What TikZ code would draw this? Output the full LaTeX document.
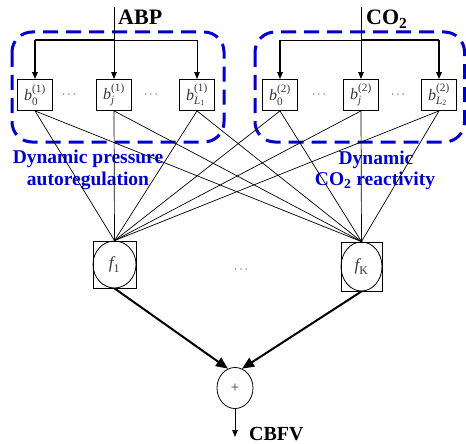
\documentclass[tikz,border=0pt]{standalone}
\usepackage{fontspec}
\setmainfont{Liberation Serif}
\usepackage{amsmath}
\usetikzlibrary{arrows.meta,shapes.geometric}
\definecolor{dblue}{RGB}{0,0,204}
\definecolor{lbl}{RGB}{55,55,55}
\newcommand\bsym[2]{$\textit{b}^{\text{(#1)}}_{#2}$}
\begin{document}
\begin{tikzpicture}[x=1pt,y=-1pt,
 bbox/.style={draw, line width=0.8pt, minimum width=35pt, minimum height=31pt, inner sep=0pt, text=lbl, font=\fontsize{16}{18}\selectfont},
 grp/.style={draw=dblue, line width=3pt, dash pattern=on 15pt off 8pt, rounded corners=20pt},
 conn/.style={line width=0.7pt},
 bus/.style={line width=1.6pt},
 feed/.style={line width=0.8pt},
 sarr/.style={-{Triangle[length=7pt,width=5.5pt]}},
 barr/.style={line width=2pt,-{Triangle[length=12pt,width=10pt]}},
 hdr/.style={font=\fontsize{22}{24}\selectfont\bfseries, inner sep=0pt, anchor=base west},
 blab/.style={font=\fontsize{19.5}{22}\selectfont\bfseries, text=dblue, inner sep=0pt, anchor=base},
 fbox/.style={draw, line width=0.8pt, inner sep=0pt, text=lbl, font=\fontsize{17}{19}\selectfont},
 dotsn/.style={text=lbl, inner sep=0pt, font=\fontsize{12}{14}\selectfont}]
\useasboundingbox (0,0) rectangle (466,444);

% group frames
\draw[grp] (12,32) rectangle (224,142);
\draw[grp] (255,32) rectangle (464.5,142);

% b boxes
\node[bbox] (b10) at (35,95) {\bsym{1}{\text{0}}};
\node[bbox] (b1j) at (114,95) {\bsym{1}{\text{\itshape j}}};
\node[bbox] (b1L) at (197,95) {\bsym{1}{\text{\itshape L}_{\text{1}}}};
\node[bbox] (b20) at (280,95) {\bsym{2}{\text{0}}};
\node[bbox] (b2j) at (361,95) {\bsym{2}{\text{\itshape j}}};
\node[bbox] (b2L) at (439,95) {\bsym{2}{\text{\itshape L}_{\text{2}}}};

\node[dotsn] (d1) at (70,95) {$\cdots$};
\node[dotsn] (d2) at (152,95) {$\cdots$};
\node[dotsn] (d3) at (320,95) {$\cdots$};
\node[dotsn] (d4) at (399,95) {$\cdots$};

% inputs
\node[hdr] (abp) at (118,25) {ABP};
\node[hdr] (co2) at (366,25) {CO\textsubscript{2}};
\coordinate (in1) at (114,7);
\coordinate (in2) at (361,7);
\coordinate (m1) at (114,40);
\coordinate (l1) at (35,40);
\coordinate (r1) at (197,40);
\coordinate (m2) at (361,40);
\coordinate (l2) at (280,40);
\coordinate (r2) at (439,40);

\draw[feed,sarr] (in1) -- (b1j.north);
\draw[bus] (m1) -- (l1);
\draw[bus,sarr] (l1) -- (b10.north);
\draw[feed] (m1) -- (r1);
\draw[feed,sarr] (r1) -- (b1L.north);

\draw[feed,sarr] (in2) -- (b2j.north);
\draw[feed] (m2) -- (l2);
\draw[bus,sarr] (l2) -- (b20.north);
\draw[bus] (m2) -- (r2);
\draw[bus,sarr] (r2) -- (b2L.north);

% labels
\node[blab] (la1) at (88,163) {Dynamic pressure};
\node[blab] (la2) at (88,185) {autoregulation};
\node[blab] (lb1) at (376,164) {Dynamic};
\node[blab] (lb2) at (375,185) {CO\textsubscript{2} reactivity};

% f nodes
\node[fbox, minimum width=43pt, minimum height=47pt] (f1) at (114.5,264.5) {$\textit{f}_{\text{1}}$};
\draw[line width=0.8pt] (f1.center) ellipse [x radius=21.5pt, y radius=23.5pt];
\node[fbox, minimum width=41pt, minimum height=49pt] (fK) at (361.5,266.5) {$\textit{f}_{\text{K}}$};
\draw[line width=0.8pt] (fK.center) ellipse [x radius=20.5pt, y radius=24.5pt];
\node[dotsn] (d5) at (242,270) {$\cdots$};

\foreach \b in {b10,b1j,b1L,b20,b2j,b2L}{
  \draw[conn] (\b.south) -- (f1.north);
  \draw[conn] (\b.south) -- (fK.north);
}

% sum node
\node[draw, ellipse, line width=0.8pt, minimum width=36pt, minimum height=41pt, inner sep=0pt, text=lbl, font=\fontsize{15}{17}\selectfont] (plus) at (235,388) {+};
\draw[barr] (f1.south) -- (plus.110);
\draw[barr] (fK.south) -- (plus.70);
\coordinate (out) at (235,437);
\draw[feed,sarr] (plus.south) -- (out);
\node[hdr, font=\fontsize{20}{22}\selectfont\bfseries] (cbfv) at (249,440) {CBFV};
\end{tikzpicture}
\end{document}
